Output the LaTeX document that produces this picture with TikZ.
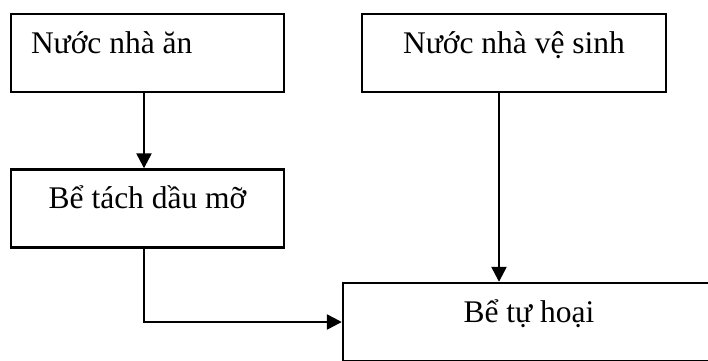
\documentclass[tikz,border=0pt]{standalone}
\usepackage{fontspec}
\setmainfont{Liberation Serif}
\usetikzlibrary{arrows.meta,calc}
\tikzset{
  box/.style={draw, line width=2.4pt, inner ysep=0pt, inner xsep=0pt,
    text height=39pt, text depth=39pt, align=center,
    font=\fontsize{31.5}{36}\selectfont},
  flow/.style={line width=2.4pt, -{Triangle[length=15pt,width=15pt]}}
}
\begin{document}
\begin{tikzpicture}[x=1pt,y=1pt]
  \useasboundingbox (0,0) rectangle (708,-360);
  \clip (0,0) rectangle (708,-360);
  % source boxes
  \node[box, minimum width=273pt, text width=233pt, align=flush left, inner xsep=20pt]
    (b1) at (147.5,-53) {Nước nhà ăn};
  \node[box, minimum width=304pt] (b2) at (514,-53) {Nước nhà vệ sinh};
  % treatment boxes
  \node[box, minimum width=273pt] (b3) at (147.5,-208.5) {Bể tách dầu mỡ};
  \node[box, minimum width=372pt] (b4) at (529,-322) {Bể tự hoại};
  % connectors
  \draw[flow] ([xshift=-3.5pt]b1.south) -- ([xshift=-3.5pt]b3.north);
  \draw[flow] ([xshift=-15pt]b2.south) -- ([xshift=-15pt]b2.south |- b4.north);
  \draw[flow] ([xshift=-3.5pt]b3.south) |- (b4.west);
\end{tikzpicture}
\end{document}
